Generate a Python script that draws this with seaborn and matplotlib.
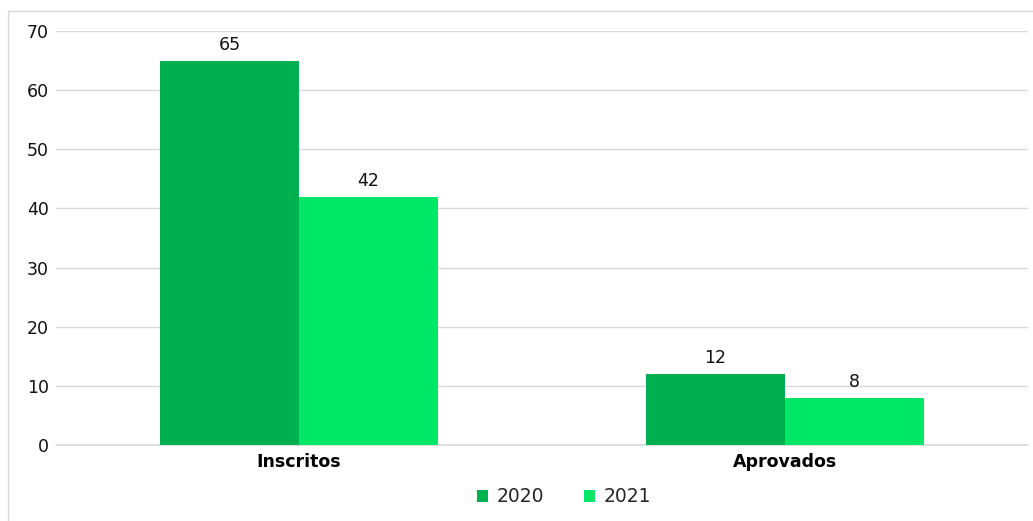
import pandas as pd
import matplotlib.pyplot as plt
import seaborn as sns
from matplotlib.patches import Rectangle

# chart data
categories = ['Inscritos', 'Aprovados']
years = ['2020', '2021']
values_2020 = [65, 12]
values_2021 = [42, 8]
colors = ['#00AF50', '#00E667']

df = pd.DataFrame({
    'Categoria': categories * 2,
    'Ano': [years[0]] * len(categories) + [years[1]] * len(categories),
    'Valor': values_2020 + values_2021,
})

sns.set_theme(style="white")
plt.rcParams['font.family'] = ['DejaVu Sans']

fig = plt.figure(figsize=(10.33, 5.21), dpi=100)
ax = fig.add_axes([56 / 1033, 1 - 445 / 521, 972 / 1033, 414 / 521])

sns.barplot(data=df, x='Categoria', y='Valor', hue='Ano', order=categories,
            hue_order=years, palette=colors, width=0.572, saturation=1,
            linewidth=0, ax=ax, legend=True)

for c in ax.containers:
    ax.bar_label(c, fmt='%d', padding=5, fontsize=12.5, color='#111111')

ax.set_ylim(0, 70)
ax.set_xlim(-0.5, 1.5)
ax.set_yticks(range(0, 71, 10))
ax.yaxis.grid(True, color='#d9d9d9', linewidth=1)
ax.axhline(0, color='#d9d9d9', linewidth=1.2, zorder=0.5, clip_on=False)
ax.set_axisbelow(True)
for s in ax.spines.values():
    s.set_visible(False)
ax.tick_params(axis='both', length=0)
ax.tick_params(axis='y', labelsize=12.5, labelcolor='#111111', pad=5)
ax.tick_params(axis='x', pad=6)
for lbl in ax.get_xticklabels():
    lbl.set_fontweight('bold')
    lbl.set_fontsize(12.5)
    lbl.set_color('black')
ax.set_xlabel('')
ax.set_ylabel('')

leg = ax.legend(loc='center', bbox_to_anchor=(0.5226, -0.125), ncol=2, frameon=False,
                fontsize=13.5, handlelength=0.6, handleheight=0.6, columnspacing=2.1,
                handletextpad=0.45)

# outer chart border (only top and left visible in the crop)
fig.patches.append(Rectangle((8 / 1033, -0.1), 1.2, 1.1 - 11 / 521,
                             transform=fig.transFigure, fill=False,
                             edgecolor='#d9d9d9', linewidth=1, zorder=0))

fig.savefig('out.png', dpi=100)
